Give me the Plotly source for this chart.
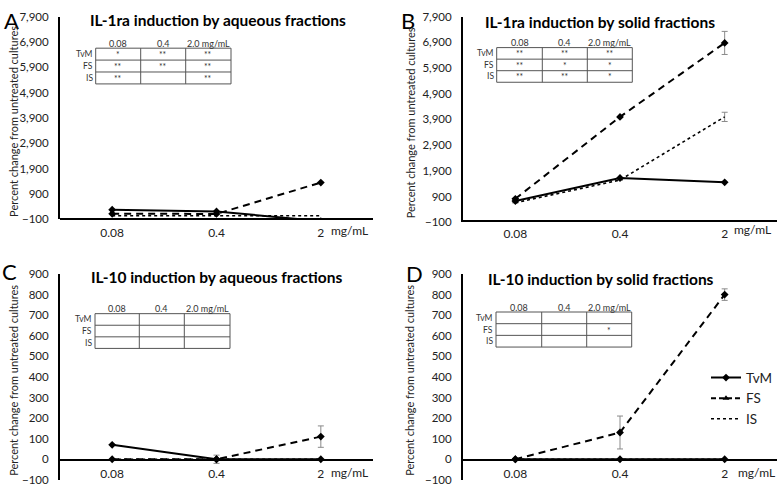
import plotly.graph_objects as go

W, H = 778, 491
FONT = "Lato"

conc_labels = ["0.08", "0.4", "2"]
conc_pos = [0, 1, 2]
row_labels = ["TvM", "FS", "IS"]
col_labels = ["0.08", "0.4", "2.0 mg/mL"]

# Panel A: IL-1ra, aqueous fractions
a_tvm = [275, 210, -175]
a_fs = [115, 110, 1350]
a_is = [40, 40, 40]
a_sig = [["*", "**", "**"], ["**", "**", "**"], ["**", "", "**"]]

# Panel B: IL-1ra, solid fractions
b_tvm = [720, 1620, 1450]
b_fs = [810, 4000, 6880]
b_fs_err = [0, 0, 450]
b_is = [655, 1540, 4000]
b_is_err = [0, 0, 180]
b_sig = [["**", "**", "**"], ["**", "*", "*"], ["**", "**", "*"]]

# Panel C: IL-10, aqueous fractions
c_tvm = [70, 0, 0]
c_fs = [0, 0, 110]
c_fs_err = [0, 20, 52]
c_is = [0, 0, 0]
c_sig = [["", "", ""], ["", "", ""], ["", "", ""]]

# Panel D: IL-10, solid fractions
d_tvm = [0, 0, 0]
d_fs = [0, 130, 800]
d_fs_err = [0, 80, 28]
d_is = [0, 0, 0]
d_sig = [["", "", ""], ["", "", "*"], ["", "", ""]]

titles = ["IL-1ra induction by aqueous fractions", "IL-1ra induction by solid fractions",
          "IL-10 induction by aqueous fractions", "IL-10 induction by solid fractions"]
letters = ["A", "B", "C", "D"]
ytitle = "Percent change from untreated cultures"


def px(x):
    return x / W


def py(y):
    return 1 - y / H


fig = go.Figure()

panels = [
    dict(x0=60, x1=373, yt=10, yb=218, xl=218, yr=[-100, 7900], dt=1000,
         data=(a_tvm, a_fs, a_is, None, None), sig=a_sig,
         tab=(95.7, 140.7, 185.7, 231, 42.3, 79), title_y=13, title_x=218,
         letter=(11, 14), ytx=14, mg=(349, 230)),
    dict(x0=463, x1=777, yt=10, yb=221, xl=219.5, yr=[-100, 7900], dt=1000,
         data=(b_tvm, b_fs, b_is, b_fs_err, b_is_err), sig=b_sig,
         tab=(496.7, 542.3, 587.3, 632.3, 41.7, 77.3), title_y=15, title_x=600,
         letter=(408, 14), ytx=410, mg=(752, 229)),
    dict(x0=60, x1=373, yt=274.3, yb=485.7, xl=465.7, yr=[-100, 900], dt=100,
         data=(c_tvm, c_fs, c_is, c_fs_err, None), sig=c_sig,
         tab=(95, 139.3, 184.3, 230, 315, 350.7), title_y=277, title_x=216,
         letter=(9, 272), ytx=14, mg=(349, 478)),
    dict(x0=463, x1=777, yt=274.3, yb=485.7, xl=465.7, yr=[-100, 900], dt=100,
         data=(d_tvm, d_fs, d_is, d_fs_err, None), sig=d_sig,
         tab=(496, 541.7, 586.7, 631.7, 313.3, 349.3), title_y=279, title_x=601,
         letter=(414, 274), ytx=410, mg=(756, 478)),
]

annotations = []
shapes = []
layout_axes = {}


def note(text, x, y, size, color="#222", xanchor="center", angle=0):
    annotations.append(dict(text=text, x=px(x), y=py(y), xref="paper", yref="paper",
                            showarrow=False, xanchor=xanchor, yanchor="middle",
                            textangle=angle, font=dict(family=FONT, size=size, color=color)))


for i, p in enumerate(panels):
    n = "" if i == 0 else str(i + 1)
    xa, ya = "x" + n, "y" + n
    tvm, fs, is_, fs_err, is_err = p["data"]
    show = (i == 3)
    fig.add_trace(go.Scatter(
        x=conc_pos, y=is_, xaxis=xa, yaxis=ya, mode="lines", name="IS",
        line=dict(color="black", width=1.6, dash="dot"),
        error_y=dict(type="data", array=is_err, color="#8a8a8a", thickness=1, width=3,
                     visible=is_err is not None),
        showlegend=show, legendrank=3))
    fig.add_trace(go.Scatter(
        x=conc_pos, y=fs, xaxis=xa, yaxis=ya, mode="lines+markers", name="FS",
        line=dict(color="black", width=2, dash="7px,5px"),
        marker=dict(symbol="diamond", size=6, color="black"),
        error_y=dict(type="data", array=fs_err, color="#8a8a8a", thickness=1, width=3,
                     visible=fs_err is not None),
        showlegend=False))
    fig.add_trace(go.Scatter(
        x=conc_pos, y=tvm, xaxis=xa, yaxis=ya, mode="lines+markers", name="TvM",
        line=dict(color="black", width=2),
        marker=dict(symbol="diamond", size=6, color="black"),
        showlegend=show, legendrank=1))
    if show:
        fig.add_trace(go.Scatter(
            x=[None], y=[None], xaxis=xa, yaxis=ya, mode="lines+markers", name="FS",
            line=dict(color="black", width=2, dash="5px,3px"),
            marker=dict(symbol="triangle-up", size=6, color="black"),
            showlegend=True, legendrank=2))

    layout_axes["xaxis" + n] = dict(
        domain=[px(p["x0"]), px(p["x1"])], range=[-0.5, 2.5],
        tickvals=conc_pos, ticktext=conc_labels, showgrid=False, zeroline=False,
        showline=True, linecolor="black", linewidth=2, ticks="",
        anchor="free", position=py(p["xl"]),
        tickfont=dict(family=FONT, size=12, color="#222"), ticklabelstandoff=2)
    layout_axes["yaxis" + n] = dict(
        domain=[py(p["yb"]), py(p["yt"])], range=p["yr"], dtick=p["dt"], tick0=-100,
        tickformat=",", showgrid=False, zeroline=False, showline=True,
        linecolor="black", linewidth=2, ticks="", anchor="x" + n,
        tickfont=dict(family=FONT, size=11.5, color="#222"), ticklabelstandoff=7)

    note("<b>" + titles[i] + "</b>", p["title_x"], p["title_y"], 15.5, color="black")
    note(letters[i], p["letter"][0], p["letter"][1], 22, color="black")
    note(ytitle, p["ytx"], (p["yt"] + p["yb"]) / 2 + 4, 11, angle=-90)
    note("mg/mL", p["mg"][0], p["mg"][1], 12)

    tx0, tx1, tx2, tx3, ty0, ty3 = p["tab"]
    cols = [tx0, tx1, tx2, tx3]
    rh = (ty3 - ty0) / 3
    rows = [ty0 + k * rh for k in range(4)]
    lc = "#555"
    for yv in rows:
        shapes.append(dict(type="line", xref="paper", yref="paper", x0=px(tx0), x1=px(tx3),
                           y0=py(yv), y1=py(yv), line=dict(color=lc, width=1)))
    for xv in cols:
        shapes.append(dict(type="line", xref="paper", yref="paper", x0=px(xv), x1=px(xv),
                           y0=py(ty0), y1=py(ty3), line=dict(color=lc, width=1)))
    for c in range(3):
        note(col_labels[c], (cols[c] + cols[c + 1]) / 2, ty0 - 5, 9, color="#333")
    for r in range(3):
        note(row_labels[r], tx0 - 1, rows[r] + rh / 2, 8.5, color="#333", xanchor="right")
        for c in range(3):
            if p["sig"][r][c]:
                note(p["sig"][r][c], (cols[c] + cols[c + 1]) / 2, rows[r] + rh / 2 + 1,
                     8.5, color="#333")

fig.update_layout(
    width=W, height=H, margin=dict(l=0, r=0, t=0, b=0),
    paper_bgcolor="white", plot_bgcolor="white",
    annotations=annotations, shapes=shapes,
    legend=dict(x=px(706), y=py(365), xanchor="left", yanchor="top",
                font=dict(family=FONT, size=13.5, color="#222"),
                bgcolor="rgba(0,0,0,0)", tracegroupgap=0, itemwidth=30),
    **layout_axes)

fig.write_html("out.html", config={"displayModeBar": False},
               post_script="document.body.style.margin='0';document.body.style.overflow='hidden';")
